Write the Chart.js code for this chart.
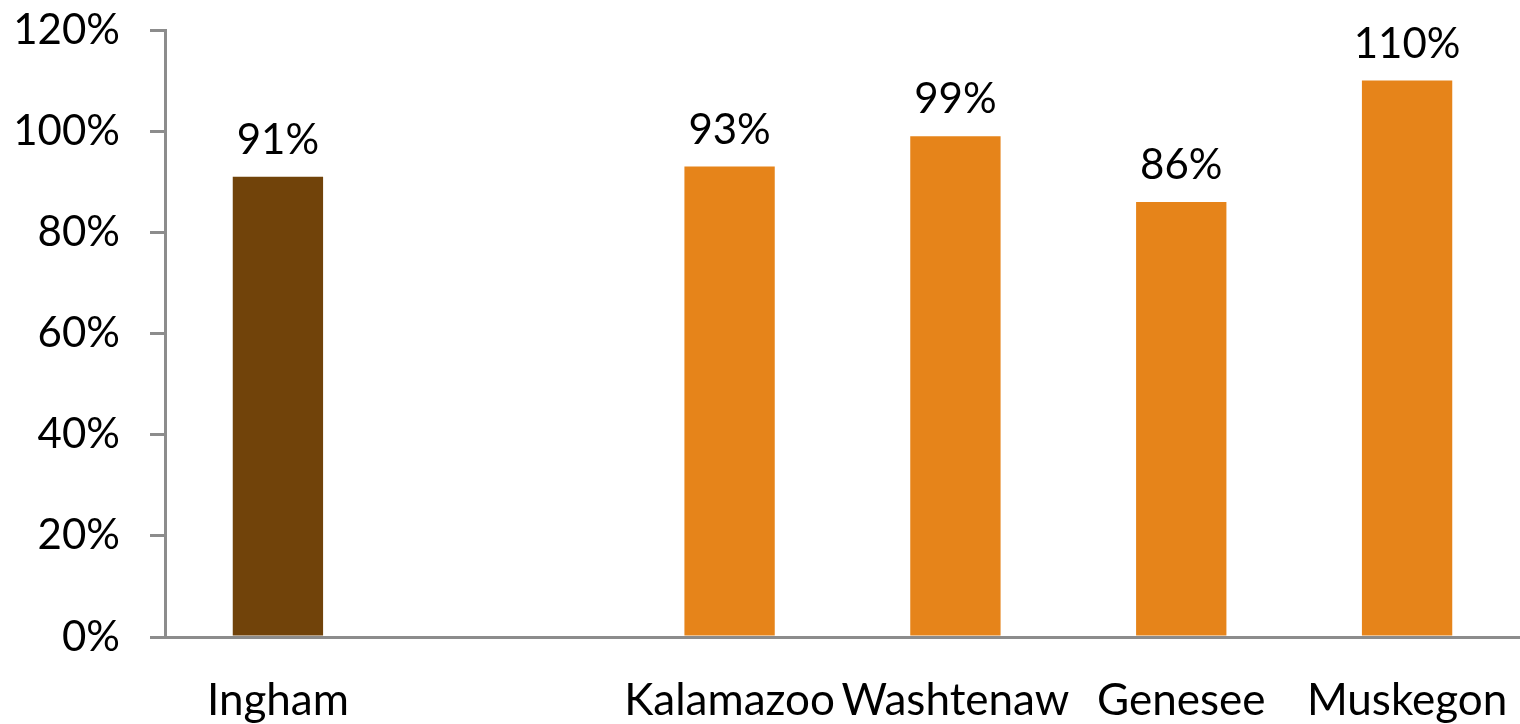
<!DOCTYPE html>
<html>
<head>
<meta charset="utf-8">
<script src="https://cdn.jsdelivr.net/npm/chart.js@4/dist/chart.umd.min.js"></script>
<style>
  html, body { margin: 0; padding: 0; background: #ffffff; }
  #wrap { width: 1520px; height: 724px; position: relative; }
</style>
</head>
<body>
<div id="wrap"><canvas id="c" width="1520" height="724"></canvas></div>
<script>
const categories = ["Ingham", "", "Kalamazoo", "Washtenaw", "Genesee", "Muskegon"];
const values = [91, null, 93, 99, 86, 110];
const barColors = ["#71430A", "#E6841A", "#E6841A", "#E6841A", "#E6841A", "#E6841A"];
const yTicks = [0, 20, 40, 60, 80, 100, 120];

const FONT = "Lato, 'Open Sans', sans-serif";
const FS = 42;
const FS_X = 44;

const valueLabels = {
  id: 'valueLabels',
  afterDatasetsDraw(chart) {
    const ctx = chart.ctx;
    const meta = chart.getDatasetMeta(0);
    ctx.save();
    ctx.font = FS + 'px ' + FONT;
    ctx.fillStyle = '#000';
    ctx.textAlign = 'center';
    ctx.textBaseline = 'alphabetic';
    meta.data.forEach((bar, i) => {
      const v = values[i];
      if (v === null || v === undefined) return;
      ctx.fillText(v + '%', bar.x, bar.y - 23);
    });
    ctx.restore();
  }
};

new Chart(document.getElementById('c'), {
  type: 'bar',
  data: {
    labels: categories,
    datasets: [{
      data: values,
      backgroundColor: barColors,
      borderWidth: 0,
      categoryPercentage: 1.0,
      barPercentage: 0.40
    }]
  },
  options: {
    responsive: false,
    animation: false,
    devicePixelRatio: 1,
    layout: { padding: { top: 30, right: 0, left: 0, bottom: 0 }, autoPadding: false },
    plugins: { legend: { display: false }, tooltip: { enabled: false } },
    scales: {
      x: {
        grid: { drawOnChartArea: false, drawTicks: false },
        border: { display: true, color: '#8C8C8C', width: 3 },
        ticks: {
          autoSkip: false, maxRotation: 0, minRotation: 0,
          color: '#000', padding: 37,
          font: { family: FONT, size: FS_X }
        },
        afterFit(scale) {
          scale.height = 87;
          scale.paddingLeft = 0; scale.paddingRight = 0;
          scale.paddingTop = 0; scale.paddingBottom = 0;
        }
      },
      y: {
        min: 0, max: 120,
        afterBuildTicks(scale) { scale.ticks = yTicks.map(v => ({ value: v })); },
        grid: { drawOnChartArea: false, drawTicks: true, tickLength: 15, color: '#8C8C8C', lineWidth: 3 },
        border: { display: true, color: '#8C8C8C', width: 3 },
        ticks: {
          color: '#000', padding: 30,
          font: { family: FONT, size: FS },
          callback: v => v + '%'
        },
        afterFit(scale) {
          scale.width = 165;
          scale.paddingLeft = 0; scale.paddingRight = 0;
          scale.paddingTop = 0; scale.paddingBottom = 0;
        }
      }
    }
  },
  plugins: [valueLabels]
});
</script>
</body>
</html>
